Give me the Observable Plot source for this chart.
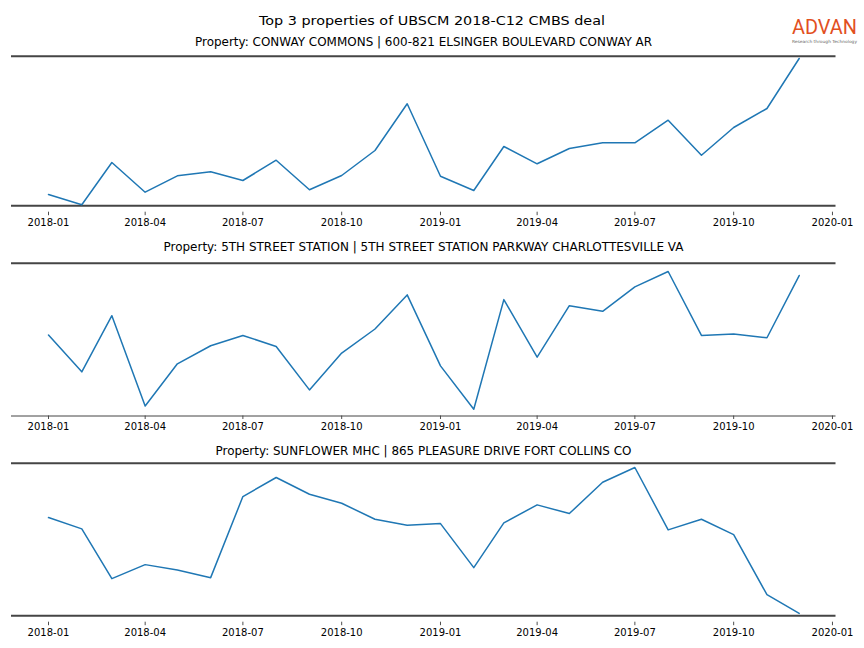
<!DOCTYPE html>
<html>
<head>
<meta charset="utf-8">
<script src="https://cdn.jsdelivr.net/npm/d3@7"></script>
<script src="https://cdn.jsdelivr.net/npm/@observablehq/plot@0.6"></script>
<style>
  html, body { margin: 0; padding: 0; background: #fff; }
  #page { position: relative; width: 864px; height: 648px; overflow: hidden; font-family: "DejaVu Sans", sans-serif; }
  .panel { position: absolute; left: 0; }
  #overlay { position: absolute; left: 0; top: 0; pointer-events: none; }
</style>
</head>
<body>
<div id="page"></div>
<script>
// ---- data ----
const months = ["2018-01","2018-02","2018-03","2018-04","2018-05","2018-06","2018-07","2018-08","2018-09","2018-10","2018-11","2018-12",
                "2019-01","2019-02","2019-03","2019-04","2019-05","2019-06","2019-07","2019-08","2019-09","2019-10","2019-11","2019-12"];
const conwayCommons = [11.3, 1, 43.3, 13.6, 30, 34, 25.3, 45.6, 16, 30.3, 55.3, 102, 29.6, 15.3, 59.3, 42, 57.3, 63, 63, 85.6, 50.6, 78.3, 97.3, 147.3];
const fifthStreetStation = [80.7, 44, 100, 10, 52, 70, 80.3, 69.3, 26, 62.7, 86.7, 120.7, 50, 6.7, 116, 58.7, 110, 104.3, 128.7, 144, 80.3, 81.7, 78, 140];
const sunflowerMhc = [98, 86.7, 37, 51, 45.7, 38, 119, 138, 121.3, 112.3, 96.3, 90.3, 92, 48, 92.7, 110.7, 102, 133.3, 148, 85.7, 96.3, 81, 21, 2.3];
const yLimits = [149.6, 152.3, 152.3];
const tickLabels = ["2018-01","2018-04","2018-07","2018-10","2019-01","2019-04","2019-07","2019-10","2020-01"];
const mainTitle = "Top 3 properties of UBSCM 2018-C12 CMBS deal";
const panelTitles = [
  "Property: CONWAY COMMONS | 600-821 ELSINGER BOULEVARD CONWAY AR",
  "Property: 5TH STREET STATION | 5TH STREET STATION PARKWAY CHARLOTTESVILLE VA",
  "Property: SUNFLOWER MHC | 865 PLEASURE DRIVE FORT COLLINS CO"
];
const seriesList = [conwayCommons, fifthStreetStation, sunflowerMhc];

// ---- layout ----
const parseMonth = d3.utcParse("%Y-%m");
const xDomain = [new Date(Date.UTC(2017, 10, 27, 13)), new Date(Date.UTC(2020, 0, 4, 7))];
const panels = [
  {top: 50,  height: 190, marginTop: 5.7,  marginBottom: 28.3, insetBottom: 6.4, bottomWidth: 2, tickPadding: 3.5},
  {top: 250, height: 190, marginTop: 12.7, marginBottom: 24.5, insetBottom: 0,   bottomWidth: 1, tickPadding: 3.5},
  {top: 450, height: 198, marginTop: 12.7, marginBottom: 26.3, insetBottom: 6.5, bottomWidth: 2, tickPadding: 3.0}
];

const page = document.getElementById("page");

seriesList.forEach((values, i) => {
  const p = panels[i];
  const data = months.map((m, j) => ({date: parseMonth(m), value: values[j]}));
  const chart = Plot.plot({
    width: 864,
    height: p.height,
    marginLeft: 11,
    marginRight: 28.5,
    marginTop: p.marginTop,
    marginBottom: p.marginBottom,
    style: {fontFamily: "DejaVu Sans, sans-serif", fontSize: "10px", color: "#000", background: "transparent", overflow: "visible"},
    x: {
      type: "utc",
      domain: xDomain,
      ticks: tickLabels.map(parseMonth),
      tickFormat: d3.utcFormat("%Y-%m"),
      tickSize: 3.5,
      tickPadding: p.tickPadding,
      label: null
    },
    y: {domain: [0, yLimits[i]], insetBottom: p.insetBottom, axis: null},
    marks: [
      Plot.ruleY([yLimits[i]], {stroke: "#454545", strokeWidth: 2}),
      Plot.ruleY([0], {stroke: "#454545", strokeWidth: p.bottomWidth}),
      Plot.lineY(data, {x: "date", y: "value", stroke: "#1f77b4", strokeWidth: 1.5, curve: "linear"})
    ]
  });
  chart.classList.add("panel");
  chart.style.top = p.top + "px";
  chart.style.position = "absolute";
  chart.querySelectorAll('g[aria-label="x-axis tick"] path').forEach(t => {
    t.setAttribute("stroke", "#222");
    t.setAttribute("stroke-width", "0.8");
  });
  page.appendChild(chart);
});

// ---- overlay text (titles + logo) ----
const ns = "http://www.w3.org/2000/svg";
const overlay = document.createElementNS(ns, "svg");
overlay.setAttribute("id", "overlay");
overlay.setAttribute("width", 864);
overlay.setAttribute("height", 648);
function addText(str, x, y, size, len, opts = {}) {
  const t = document.createElementNS(ns, "text");
  t.textContent = str;
  t.setAttribute("x", x);
  t.setAttribute("y", y);
  t.setAttribute("font-size", size);
  t.setAttribute("font-family", opts.family || "DejaVu Sans, sans-serif");
  t.setAttribute("fill", opts.fill || "#000");
  t.setAttribute("text-anchor", opts.anchor || "middle");
  if (opts.weight) t.setAttribute("font-weight", opts.weight);
  if (len) { t.setAttribute("textLength", len); t.setAttribute("lengthAdjust", "spacingAndGlyphs"); }
  overlay.appendChild(t);
}
addText(mainTitle, 432, 24.5, 13, 346);
addText(panelTitles[0], 423.5, 46, 11.5, 457);
addText(panelTitles[1], 423.5, 250.5, 11.5, 520);
addText(panelTitles[2], 423.5, 454.5, 11.5, 416);
// logo
addText("ADVAN", 792, 33.8, 19.5, 65, {anchor: "start", fill: "#e2501f", family: "Roboto, sans-serif"});
addText("Research through Technology", 792, 43.2, 4.2, 65, {anchor: "start", fill: "#666"});
page.appendChild(overlay);
</script>
</body>
</html>
